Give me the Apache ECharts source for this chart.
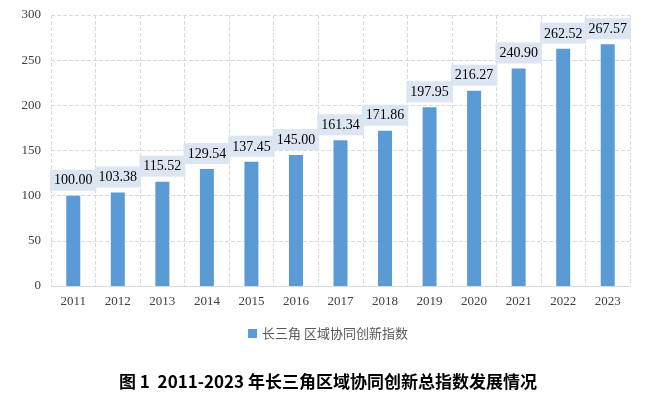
<!DOCTYPE html>
<html><head><meta charset="utf-8">
<script src="https://cdn.jsdelivr.net/npm/echarts@6/dist/echarts.min.js"></script>
<style>html,body{margin:0;padding:0;background:#fff}#c{width:656px;height:395px}</style>
</head><body><div id="c"></div>
<script>
const categories = ['2011','2012','2013','2014','2015','2016','2017','2018','2019','2020','2021','2022','2023'];
const values = [100.00,103.38,115.52,129.54,137.45,145.00,161.34,171.86,197.95,216.27,240.90,262.52,267.57];
const seriesName = '长三角 区域协同创新指数';
const titleText = '图 1  2011-2023 年长三角区域协同创新总指数发展情况';

const chart = echarts.init(document.getElementById('c'));
chart.setOption({
  animation: false,
  title: {
    text: titleText, left: 'center', top: 368,
    textStyle: {fontFamily: '"Noto Sans CJK SC"', fontSize: 17, fontWeight: 'bold', color: '#000'}
  },
  legend: {
    data: [seriesName], top: 322, left: 'center', itemWidth: 9, itemHeight: 9, icon: 'rect', itemGap: 6,
    textStyle: {fontFamily: '"Noto Sans CJK SC"', fontSize: 13, color: '#595959'}
  },
  grid: {left: 51, right: 26, top: 15, bottom: 109},
  xAxis: {
    type: 'category', data: categories,
    axisLine: {lineStyle: {color: '#d9d9d9'}},
    axisTick: {show: false},
    axisLabel: {fontFamily: '"Liberation Serif"', fontSize: 13, color: '#404040', margin: 9},
    splitLine: {show: true, lineStyle: {color: '#d9d9d9', type: 'dashed'}}
  },
  yAxis: {
    type: 'value', min: 0, max: 300, interval: 50,
    axisLine: {show: false}, axisTick: {show: false},
    axisLabel: {fontFamily: '"Liberation Serif"', fontSize: 13, color: '#404040', margin: 10},
    splitLine: {lineStyle: {color: '#d9d9d9', type: 'dashed'}}
  },
  series: [{
    name: seriesName, type: 'bar', data: values, barWidth: 14,
    itemStyle: {color: '#5b9bd5'},
    label: {
      show: true, position: 'top', distance: 5,
      formatter: p => p.value.toFixed(2),
      fontFamily: '"Liberation Serif"', fontSize: 14, color: '#000',
      backgroundColor: '#dce6f2', padding: [4, 4, 3, 4]
    }
  }]
});
</script></body></html>
